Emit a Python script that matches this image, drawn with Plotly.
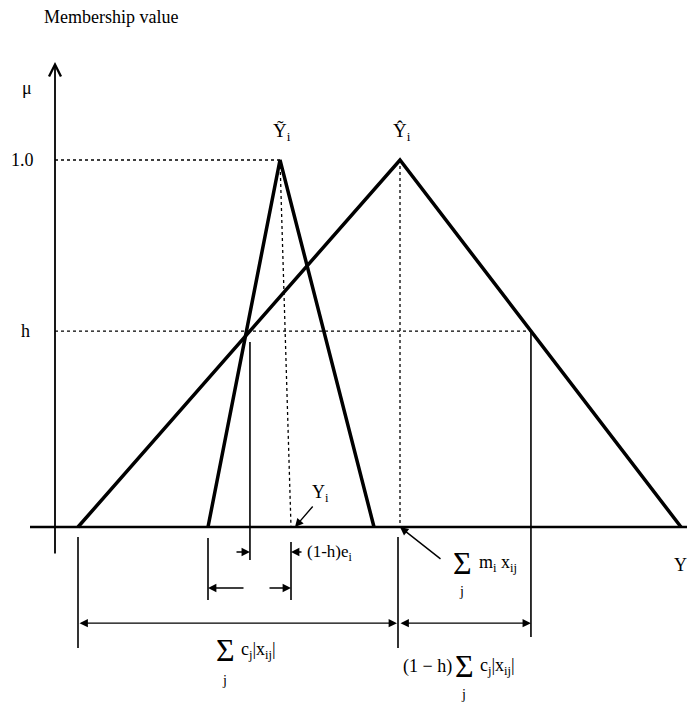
import plotly.graph_objects as go

# membership functions (x in drawing units, mu in membership units)
yhat_left, yhat_center, yhat_right = 78, 400, 681
ytil_left, ytil_center, ytil_right = 208, 280, 374
y_obs = 291
h = 0.534
mu_levels = [0.0, h, 1.0]
tick_labels = ["1.0", "h"]

# helper positions below the axis (membership units)
row1, row2, row3 = -0.068, -0.166, -0.262

yhat_h_left = yhat_left + (yhat_center - yhat_left) * h
yhat_h_right = yhat_right - (yhat_right - yhat_center) * h

fig = go.Figure()

def line(xs, ys, width, dash="solid"):
    fig.add_trace(go.Scatter(x=xs, y=ys, mode="lines", hoverinfo="skip",
                             line=dict(color="black", width=width, dash=dash)))

# dotted guides
line([55, ytil_center], [1.0, 1.0], 1.3, "dot")
line([55, yhat_h_right], [h, h], 1.3, "dot")
line([yhat_center, yhat_center], [1.0, 0], 1.3, "dot")
line([ytil_center, y_obs], [1.0, 0], 1.3, "dot")

# base line
line([30, 695], [0, 0], 2.5)

# triangles
line([yhat_left, yhat_center, yhat_right], [0, 1.0, 0], 3.5)
line([ytil_left, ytil_center, ytil_right], [0, 1.0, 0], 3.5)

# thin extension lines
line([yhat_left, yhat_left], [-0.027, -0.33], 1.6)
line([ytil_left, ytil_left], [-0.03, -0.199], 1.6)
line([yhat_h_left, yhat_h_left], [h - 0.03, -0.09], 1.6)
line([y_obs, y_obs], [-0.041, -0.199], 1.6)
line([yhat_center - 2, yhat_center - 2], [-0.027, -0.33], 1.6)
line([yhat_h_right, yhat_h_right], [h, -0.30], 1.6)

ann = []

def arrow(x, y, ax, ay, head=2, side="end", width=1.4, size=1.2):
    ann.append(dict(x=x, y=y, ax=ax, ay=ay, xref="x", yref="y", axref="x", ayref="y",
                    text="", showarrow=True, arrowhead=head, arrowside=side,
                    arrowwidth=width, arrowsize=size, arrowcolor="black",
                    standoff=0, startstandoff=0))

# mu axis
arrow(55, 1.267, 55, -0.076, head=5, width=1.8, size=1.3)

# dimension arrows
arrow(yhat_h_left, row1, 235, row1)
arrow(y_obs, row1, 303, row1)
arrow(ytil_left, row2, 245, row2)
arrow(y_obs, row2, 268, row2)
arrow(yhat_center - 3, row3, yhat_left, row3, side="end+start")
arrow(yhat_h_right, row3, yhat_center - 1, row3, side="end+start")

# pointer arrows
arrow(yhat_center, 0, 442, -0.09, width=1.4)
arrow(y_obs + 4, 0, 314, 0.06, width=1.4)

F = "Liberation Serif"

def text(x, y, s, size=18, anchor="center"):
    ann.append(dict(x=x, y=y, xref="x", yref="y", text=s, showarrow=False,
                    xanchor=anchor, yanchor="middle",
                    font=dict(family=F, size=size, color="black")))

text(42, 1.39, "Membership value", anchor="left")
text(27, 1.196, "μ")
text(22, mu_levels[2], tick_labels[0])
text(25, mu_levels[1], tick_labels[1])
text(ytil_center + 2, 1.076, "Ỹ<sub>i</sub>", size=19)
text(yhat_center + 2, 1.076, "Ŷ<sub>i</sub>", size=19)
text(680, -0.104, "Y")
text(320, 0.09, "Y<sub>i</sub>")
text(305, -0.071, "(1-h)e<sub>i</sub>", size=17, anchor="left")

# sum m_i x_ij
text(462, -0.098, "Σ", size=32)
text(461, -0.177, "j", size=14)
text(477, -0.100, "m<sub>i</sub> x<sub>ij</sub>", size=18, anchor="left")

# sum c_j |x_ij|
text(225, -0.335, "Σ", size=32)
text(224, -0.417, "j", size=14)
text(239, -0.337, "c<sub>j</sub>|x<sub>ij</sub>|", size=18, anchor="left")

# (1-h) sum c_j |x_ij|
text(401, -0.381, "(1 − h)", size=18, anchor="left")
text(464, -0.379, "Σ", size=32)
text(463, -0.455, "j", size=14)
text(478, -0.380, "c<sub>j</sub>|x<sub>ij</sub>|", size=18, anchor="left")

# page body adds an 8 px offset, so the figure is 8 px smaller and ranges start at 8 px
fig.update_layout(
    width=687, height=694, autosize=False,
    margin=dict(l=0, r=0, t=0, b=0),
    paper_bgcolor="white", plot_bgcolor="white",
    showlegend=False,
    xaxis=dict(range=[8, 695], visible=False, fixedrange=True),
    yaxis=dict(range=[-0.4768, 1.4142], visible=False, fixedrange=True),
    annotations=ann,
)

fig.write_html("out.html")
